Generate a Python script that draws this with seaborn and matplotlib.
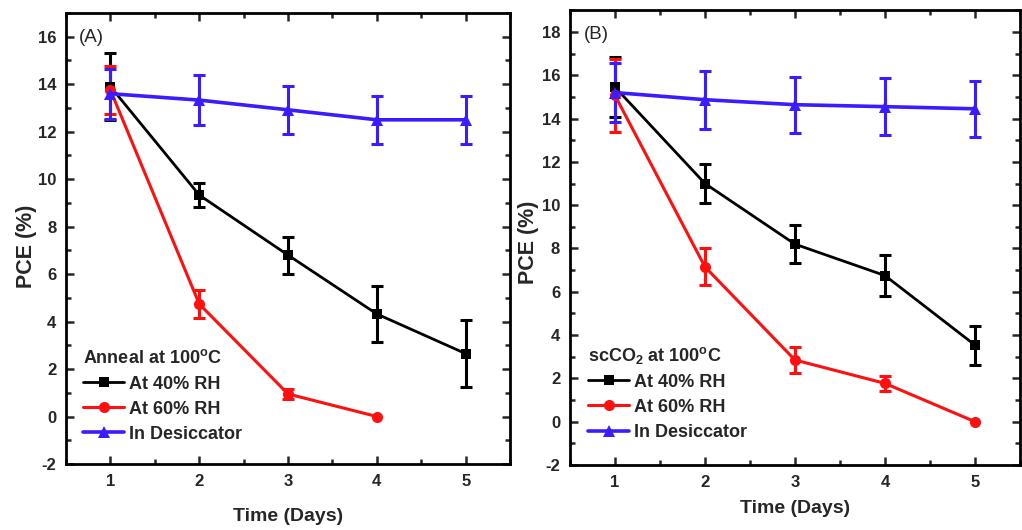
import numpy as np
import pandas as pd
import matplotlib
matplotlib.use("Agg")
import matplotlib.pyplot as plt
import seaborn as sns
from matplotlib.ticker import MultipleLocator

# ---------------- data ----------------
days = [1, 2, 3, 4, 5]
series_names = ["At 40% RH", "At 60% RH", "In Desiccator"]

# Panel A: Anneal at 100 C
a_rh40 = [13.9, 9.33, 6.8, 4.32, 2.65]
a_rh40_err = [1.4, 0.52, 0.78, 1.2, 1.4]
a_rh60 = [13.75, 4.74, 0.95, 0.0]
a_rh60_err = [1.0, 0.58, 0.2, 0.0]
a_des = [13.6, 13.33, 12.92, 12.5, 12.5]
a_des_err = [1.05, 1.05, 1.0, 1.0, 1.0]

# Panel B: scCO2 at 100 C
b_rh40 = [15.45, 11.0, 8.2, 6.75, 3.54]
b_rh40_err = [1.38, 0.9, 0.88, 0.93, 0.9]
b_rh60 = [15.07, 7.15, 2.85, 1.77, 0.0]
b_rh60_err = [1.68, 0.85, 0.6, 0.33, 0.0]
b_des = [15.2, 14.87, 14.64, 14.55, 14.45]
b_des_err = [1.35, 1.33, 1.3, 1.3, 1.3]

colors = {"At 40% RH": "#000000", "At 60% RH": "#ff1010", "In Desiccator": "#3a1cff"}
markers = {"At 40% RH": "s", "At 60% RH": "o", "In Desiccator": "^"}

sns.set_theme(style="ticks")
FONT = ["Liberation Sans Narrow", "Liberation Sans", "DejaVu Sans"]
plt.rcParams["font.family"] = FONT
plt.rcParams["axes.unicode_minus"] = False
plt.rcParams["mathtext.fontset"] = "custom"
plt.rcParams["mathtext.rm"] = "Liberation Sans:bold"
plt.rcParams["mathtext.it"] = "Liberation Sans:bold"
plt.rcParams["mathtext.bf"] = "Liberation Sans:bold"


def make_df(v40, e40, v60, e60, vd, ed):
    rows = []
    for name, vals, errs in [("At 40% RH", v40, e40), ("At 60% RH", v60, e60), ("In Desiccator", vd, ed)]:
        for d, v, e in zip(days, vals, errs):
            rows.append({"Day": d, "PCE": v, "err": e, "Series": name})
    return pd.DataFrame(rows)


fig = plt.figure(figsize=(10.22, 5.30), dpi=100)
axA = fig.add_axes([0.0646, 0.1245, 0.4345, 0.851])
axB = fig.add_axes([0.5577, 0.1226, 0.4403, 0.858])

panels = [
    (axA, make_df(a_rh40, a_rh40_err, a_rh60, a_rh60_err, a_des, a_des_err), (-2, 17),
     "(A)", "Anneal at 100$^{\\rm o}$C", (0.038, 0.047), (-0.066, -0.098, 0.483)),
    (axB, make_df(b_rh40, b_rh40_err, b_rh60, b_rh60_err, b_des, b_des_err), (-2, 19),
     "(B)", "scCO$_2$ at 100$^{\\rm o}$C", (0.04, 0.053), (-0.069, -0.078, 0.49)),
]

lw = {"At 40% RH": 2.0, "At 60% RH": 2.2, "In Desiccator": 2.6}
ms = {"At 40% RH": 7, "At 60% RH": 8, "In Desiccator": 8}

for ax, df, ylim, tag, legtitle, legpos, labpos in panels:
    for name in series_names:
        sub = df[df["Series"] == name]
        nz = sub[sub["err"] > 0]
        ax.errorbar(nz["Day"], nz["PCE"], yerr=nz["err"], fmt="none",
                    ecolor=colors[name], elinewidth=2.2, capsize=4.5, capthick=2.2, zorder=2)
        sns.lineplot(data=sub, x="Day", y="PCE", ax=ax, color=colors[name],
                     marker=markers[name], markersize=ms[name], markeredgewidth=0,
                     linewidth=lw[name], label=name, zorder=3, errorbar=None)
    ax.set_xlim(0.5, 5.5)
    ax.set_ylim(*ylim)
    ax.xaxis.set_major_locator(MultipleLocator(1))
    ax.xaxis.set_minor_locator(MultipleLocator(0.5))
    ax.yaxis.set_major_locator(MultipleLocator(2))
    ax.yaxis.set_minor_locator(MultipleLocator(1))
    ax.tick_params(which="both", direction="in", top=True, right=True, width=1.8)
    ax.tick_params(which="major", length=6, labelsize=12, pad=7)
    ax.tick_params(which="minor", length=3.5)
    for lab in ax.get_xticklabels() + ax.get_yticklabels():
        lab.set_fontweight("bold")
    for s in ax.spines.values():
        s.set_linewidth(2.0)
        s.set_color("black")
    ax.set_xlabel("Time (Days)", fontsize=14, fontweight="bold")
    ax.set_ylabel("PCE (%)", fontsize=15.5, fontweight="bold")
    ax.yaxis.set_label_coords(labpos[0], labpos[2])
    ax.xaxis.set_label_coords(0.5, labpos[1])
    ax.text(0.03, 0.965, tag, transform=ax.transAxes, fontsize=13.5,
            family=["Liberation Sans", "DejaVu Sans"], va="top", ha="left")
    leg = ax.legend(loc="lower left", bbox_to_anchor=legpos, frameon=False,
                    title=legtitle, fontsize=13, borderpad=0, borderaxespad=0,
                    handlelength=2.3, handletextpad=0.25, labelspacing=0.45,
                    alignment="left",
                    title_fontproperties={"size": 13, "weight": "bold", "family": FONT})
    for t in leg.get_texts():
        t.set_fontweight("bold")
    ax.set_facecolor("white")

fig.savefig("out.png", dpi=100, facecolor="white")
